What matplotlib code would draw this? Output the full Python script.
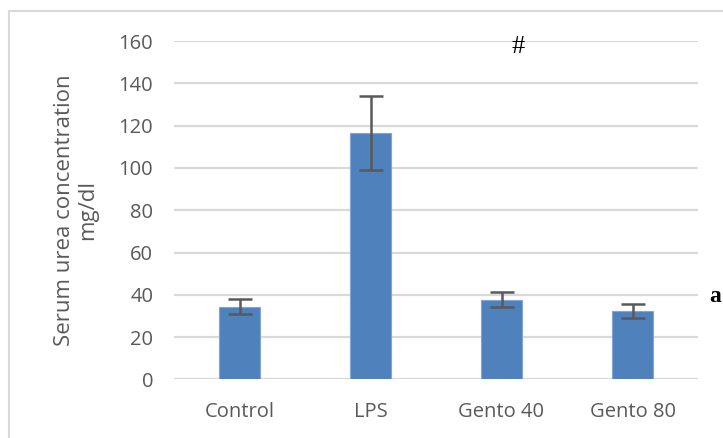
import matplotlib
matplotlib.use("Agg")
import matplotlib.pyplot as plt
from matplotlib.lines import Line2D

categories = ["Control", "LPS", "Gento 40", "Gento 80"]
means = [34.4, 116.5, 37.6, 32.3]
errors = [3.6, 17.5, 3.5, 3.2]
yticks = [0, 20, 40, 60, 80, 100, 120, 140, 160]

W, H = 723, 438
fig = plt.figure(figsize=(W / 100, H / 100), dpi=100)
fig.patch.set_facecolor("white")

ax_left, ax_right = 174 / W, 698 / W
ax_bottom = (H - 379.3) / H
ax_top = (H - 41.2) / H
ax = fig.add_axes([ax_left, ax_bottom, ax_right - ax_left, ax_top - ax_bottom])

x = list(range(len(categories)))
ax.bar(x, means, width=0.313, color="#4f81bd", edgecolor="#7fa6d6", linewidth=0.8, zorder=3)
ax.errorbar(x, means, yerr=errors, fmt="none", ecolor="#595959", elinewidth=1.8,
            capsize=8.5, capthick=1.8, zorder=4)

ax.set_xlim(-0.5, 3.5)
ax.set_ylim(0, 160)
ax.set_yticks(yticks)
ax.set_xticks(x)
ax.set_xticklabels(categories)
ax.yaxis.grid(True, color="#d9d9d9", linewidth=1.6, zorder=0)
ax.set_axisbelow(True)
for s in ax.spines.values():
    s.set_visible(False)
ax.tick_params(axis="both", length=0, labelsize=14.5, labelcolor="#595959")
ax.tick_params(axis="y", pad=15)
ax.tick_params(axis="x", pad=16)
for lbl in ax.get_xticklabels() + ax.get_yticklabels():
    lbl.set_family("Open Sans")

fig.text(76 / W, 1 - 210 / H, "Serum urea concentration\nmg/dl", rotation=90,
         ha="center", va="center", fontsize=16, color="#595959",
         family="Open Sans", linespacing=1.15)

fig.text(518 / W, 1 - 47 / H, "#", ha="center", va="center", fontsize=19,
         family="Liberation Serif", color="black")
fig.text(709 / W, 1 - 296 / H, "a", ha="left", va="center", fontsize=17,
         family="Liberation Serif", fontweight="bold", color="black")

fig.add_artist(Line2D([9 / W, 1.0], [1 - 11 / H, 1 - 11 / H], color="#d9d9d9",
                      linewidth=1.5, transform=fig.transFigure))
fig.add_artist(Line2D([9 / W, 9 / W], [0, 1 - 11 / H], color="#d9d9d9",
                      linewidth=1.5, transform=fig.transFigure))

fig.savefig("out.png", dpi=100)
